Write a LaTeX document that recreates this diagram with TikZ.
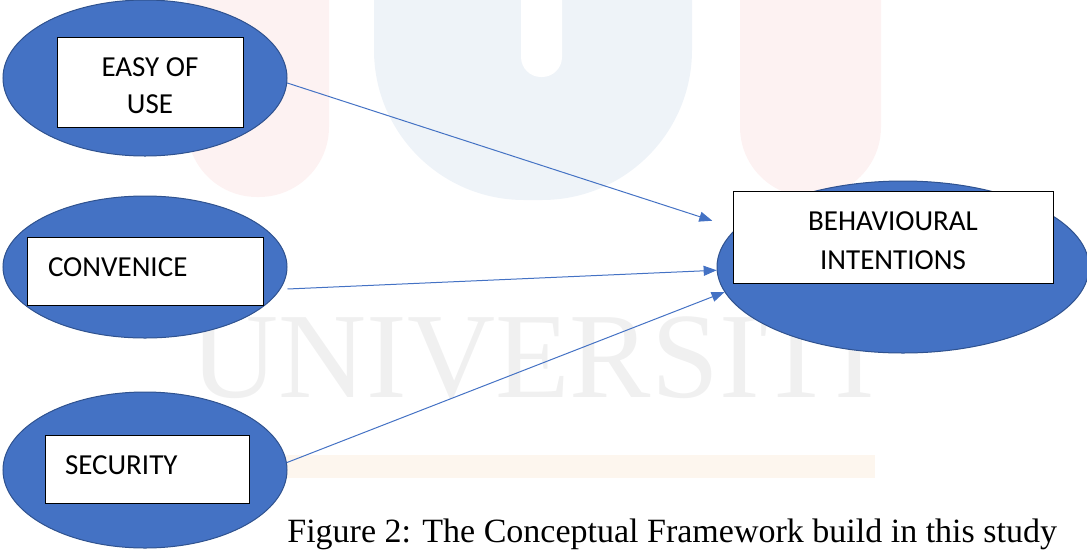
\documentclass[tikz,border=0pt]{standalone}
\usepackage{fontspec}
\setmainfont{Liberation Serif}
\newfontfamily\boxfont{Carlito}
\usetikzlibrary{shapes.geometric,arrows.meta,calc}

\tikzset{every picture/.style={line width=0.75pt}}
\tikzset{
  bubble/.style={ellipse, draw={rgb, 255:red, 47; green, 82; blue, 143}, fill={rgb, 255:red, 68; green, 114; blue, 196}, line width=1pt, inner sep=0pt},
  labelbox/.style={rectangle, draw=black, fill=white, line width=1pt, font=\boxfont\fontsize{29}{37}\selectfont},
  link/.style={draw={rgb, 255:red, 68; green, 114; blue, 196}, line width=1pt, -{Triangle[length=13pt,width=10pt]}},
  wmpink/.style={fill={rgb, 255:red, 253; green, 242; blue, 242}},
  wmblue/.style={fill={rgb, 255:red, 238; green, 243; blue, 248}},
  wmbar/.style={fill={rgb, 255:red, 253; green, 246; blue, 238}}
}

\begin{document}
\begin{tikzpicture}[x=1pt,y=1pt,yscale=-1,xscale=1]
\useasboundingbox (0,0) rectangle (1087,550);

%Watermark
\fill[wmpink, rounded corners=70pt] (187,-90) rectangle (329,197);
\fill[wmblue, rounded corners=150pt] (374,-160) rectangle (692,200);
\fill[white, rounded corners=20pt] (521,-40) rectangle (562,77);
\fill[wmpink, rounded corners=70pt] (740,-90) rectangle (881,197);
\fill[wmbar] (185,455) rectangle (875,478);
\node[anchor=base west, inner sep=0pt, text=black!6, font=\fontsize{122}{122}\selectfont] (wmtext) at (190,397) {UNIVERSITI};

%Shape: Ellipse
\node[bubble, minimum width=284pt, minimum height=156pt] (easy) at (145,78) {};
%Shape: Ellipse
\node[bubble, minimum width=284pt, minimum height=142pt] (conv) at (145,267) {};
%Shape: Ellipse
\node[bubble, minimum width=284pt, minimum height=156pt] (secu) at (145,470) {};
%Shape: Ellipse
\node[bubble, minimum width=372pt, minimum height=172pt] (behav) at (903,267) {};

%Straight Lines
\draw[link, shorten >=25pt] (easy.-2) -- (behav.167);
%Straight Lines
\draw[link] ($(conv.east)+(0,22)$) -- (behav.181);
%Straight Lines
\draw[link] (secu.3) -- (behav.188);

%Shape: Rectangle
\node[labelbox, minimum width=186pt, minimum height=90pt, align=center, text height=62pt, text depth=0pt] (easybox) at (150,82) {EASY OF\\USE};
%Shape: Rectangle
\node[labelbox, minimum width=236pt, minimum height=68pt, text width=194pt, inner xsep=21pt, align=left, text height=18pt, text depth=8pt] (convbox) at (145,271) {CONVENICE};
%Shape: Rectangle
\node[labelbox, minimum width=204pt, minimum height=68pt, text width=164pt, inner xsep=20pt, align=left, text height=18pt, text depth=8pt] (secubox) at (147,469) {SECURITY};
%Shape: Rectangle
\node[labelbox, font=\boxfont\fontsize{29}{39}\selectfont, minimum width=320pt, minimum height=92pt, align=center, text height=64pt, text depth=0pt] (behavbox) at (893,237) {BEHAVIOURAL\\INTENTIONS};

% Text Node
\node[anchor=base west, inner sep=0pt, font=\fontsize{34}{40}\selectfont] (caption) at (287,542) {Figure 2: The Conceptual Framework build in this study};

\end{tikzpicture}
\end{document}
